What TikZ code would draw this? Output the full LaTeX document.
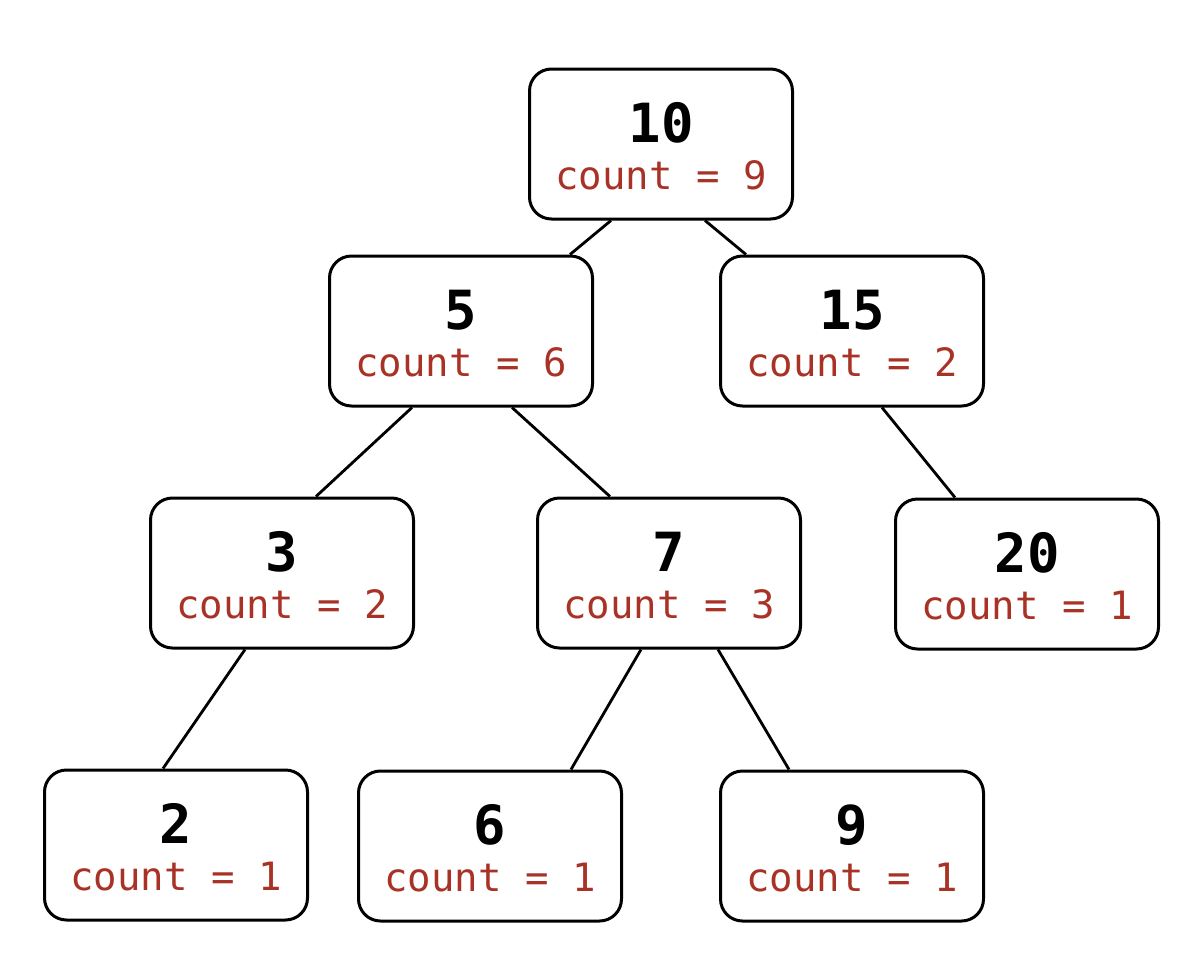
\documentclass[tikz,border=0pt]{standalone}
\usepackage{fontspec}
\setmonofont{DejaVu Sans Mono}
\definecolor{cntred}{HTML}{A93226}
\newcommand\tnode[5]{%
  \node[tbox] (#1) at (#2,#3) {};
  \node[numtxt] (#1num) at ([yshift=2pt]#1.center) {#4};
  \node[cnttxt] (#1cnt) at ([yshift=-45.5pt]#1.center) {count = #5};
}
\begin{document}
\begin{tikzpicture}[x=1pt,y=-1pt,
  tbox/.style={draw=black, line width=3pt, rounded corners=22pt, fill=white,
    minimum width=263pt, minimum height=150pt, inner sep=0pt},
  numtxt/.style={anchor=base, inner sep=0pt, font=\ttfamily\bfseries\fontsize{54}{60}\selectfont},
  cnttxt/.style={anchor=base, inner sep=0pt, text=cntred, font=\ttfamily\fontsize{39}{44}\selectfont},
  edge/.style={draw=black, line width=2.8pt}]
\useasboundingbox (0,0) rectangle (1200,970);
\tnode{n10}{661}{144}{10}{9}
\tnode{n5}{461}{331}{5}{6}
\tnode{n15}{852}{331}{15}{2}
\tnode{n3}{282}{573}{3}{2}
\tnode{n7}{669}{573}{7}{3}
\tnode{n20}{1027}{574}{20}{1}
\tnode{n2}{176}{845}{2}{1}
\tnode{n6}{490}{846}{6}{1}
\tnode{n9}{852}{846}{9}{1}
\draw[edge] ([xshift=-50pt]n10.south) -- ([xshift=109pt]n5.north);
\draw[edge] ([xshift=44pt]n10.south) -- ([xshift=-106pt]n15.north);
\draw[edge] ([xshift=-49pt]n5.south) -- ([xshift=34pt]n3.north);
\draw[edge] ([xshift=51pt]n5.south) -- ([xshift=-59pt]n7.north);
\draw[edge] ([xshift=30pt]n15.south) -- ([xshift=-72pt]n20.north);
\draw[edge] ([xshift=-37pt]n3.south) -- ([xshift=-13pt]n2.north);
\draw[edge] ([xshift=-28pt]n7.south) -- ([xshift=81pt]n6.north);
\draw[edge] ([xshift=49pt]n7.south) -- ([xshift=-63pt]n9.north);
\end{tikzpicture}
\end{document}
